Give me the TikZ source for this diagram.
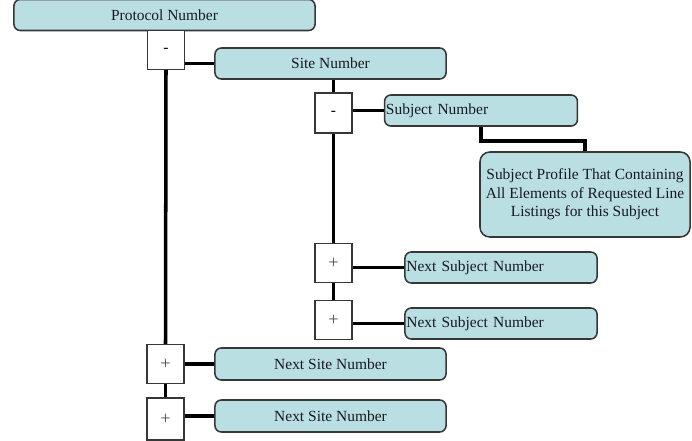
\documentclass[tikz,border=0pt]{standalone}
\usepackage{fontspec}
\setmainfont{Liberation Serif}
\definecolor{boxfill}{RGB}{185,223,227}
\definecolor{boxline}{RGB}{55,55,55}
\definecolor{boxtext}{RGB}{25,25,35}
\tikzset{
  infobox/.style={draw=boxline, line width=1.1pt, fill=boxfill, rounded corners=4.5pt,
    text=boxtext, font=\fontsize{11}{13.2}\selectfont, inner sep=1pt},
  togglebox/.style={draw=boxline, line width=0.9pt, fill=white, inner sep=0pt,
    minimum width=0.925cm, minimum height=0.975cm, font=\fontsize{11}{13}\selectfont},
  plusbox/.style={togglebox, text=black!70, font=\fontsize{13}{15}\selectfont},
  link/.style={line width=2.5pt, black}
}
\begin{document}
\begin{tikzpicture}[x=0.025cm, y=-0.025cm]
\useasboundingbox (0,0) rectangle (692,441);

% Top level: protocol and sites
\node[infobox, minimum width=7.525cm, minimum height=0.775cm] (proto) at (164.5,15) {Protocol Number};
\node[togglebox] (m1) at (166,50) {-};
\node[infobox, minimum width=5.775cm, minimum height=0.775cm] (site) at (330.5,63.5) {Site Number};

% Subjects inside the site
\node[togglebox, minimum height=1cm] (m2) at (333.5,113) {-};
\node[infobox, text width=4.75cm, align=left, minimum height=0.775cm] (subj) at (481,110.5) {Subject Number};
\node[infobox, rounded corners=7pt, minimum width=5.25cm, minimum height=2.125cm, align=center] (prof) at (585,194.5)
  {Subject Profile That Containing\\All Elements of Requested Line\\Listings for this Subject};
\node[plusbox] (p3) at (333.5,263) {+};
\node[infobox, text width=4.73cm, align=left, minimum height=0.775cm] (nsub1) at (501,267.5) {Next Subject Number};
\node[plusbox] (p4) at (333.5,320) {+};
\node[infobox, text width=4.73cm, align=left, minimum height=0.775cm] (nsub2) at (501,323.5) {Next Subject Number};

% Further sites
\node[plusbox] (p5) at (165.5,364) {+};
\node[infobox, minimum width=5.775cm, minimum height=0.8cm] (nsite1) at (330.5,364) {Next Site Number};
\node[plusbox, minimum height=1.05cm] (p6) at (165.5,419) {+};
\node[infobox, minimum width=5.775cm, minimum height=0.8cm] (nsite2) at (330.5,416) {Next Site Number};

% Connectors
\draw[link] (m1.south) -- (p5.north);
\draw[link] (p5.south) -- (p6.north);
\draw[link] (site.west) -- (site.west -| m1.east);
\draw[link] (m2.north) -- (m2.north |- site.south);
\draw[link] (subj.west) -- (subj.west -| m2.east);
\draw[link] (subj.south) -- ++(0,14) -| (prof.north);
\draw[link] (m2.south) -- (p3.north);
\draw[link] (p3.south) -- (p4.north);
\draw[link] (nsub1.west) -- (nsub1.west -| p3.east);
\draw[link] (nsub2.west) -- (nsub2.west -| p4.east);
\draw[link] (nsite1.west) -- (nsite1.west -| p5.east);
\draw[link] (nsite2.west) -- (nsite2.west -| p6.east);
\end{tikzpicture}
\end{document}
